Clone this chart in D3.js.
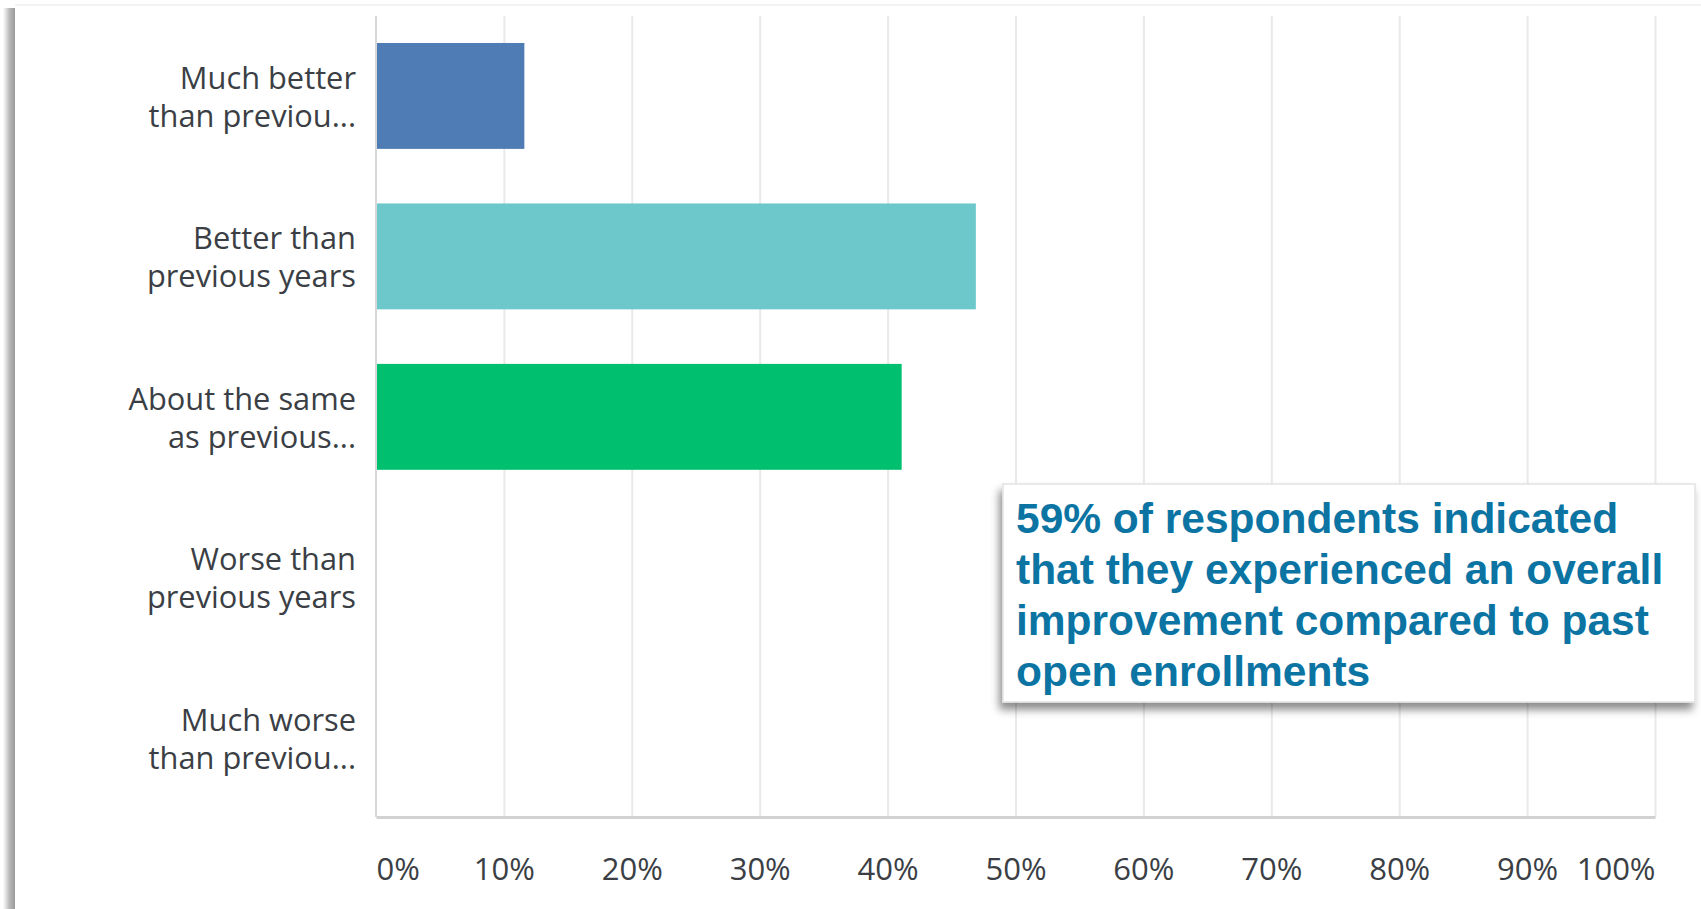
<!DOCTYPE html>
<html>
<head>
<meta charset="utf-8">
<script src="https://cdn.jsdelivr.net/npm/d3@7"></script>
<style>
    body { margin: 0; background: #ffffff; overflow: hidden; }
    svg { display: block; }
</style>
</head>
<body>
<div id="chart"></div>
<script>
// survey answers (labels are cut off in the original, so keep the shown text)
const categories = ["Much better than previous years", "Better than previous years",
    "About the same as previous years", "Worse than previous years", "Much worse than previous years"]
const labelLines = [["Much better", "than previou..."], ["Better than", "previous years"],
    ["About the same", "as previous..."], ["Worse than", "previous years"], ["Much worse", "than previou..."]]
const values = [11.6, 46.9, 41.1, 0, 0]
const barColors = ["#507cb5", "#6cc8cb", "#00bf6f", "#d25f90", "#dbd9b2"]
const tickValues = [0, 10, 20, 30, 40, 50, 60, 70, 80, 90, 100]
const noteLines = ["59% of respondents indicated", "that they experienced an overall",
    "improvement compared to past", "open enrollments"]

class BarChart {

    constructor() {
        this.initVis()
    }

    initVis() {
        let vis = this;

        vis.width = 1701
        vis.height = 909
        vis.top = 16
        vis.axisY = 817

        vis.svg = d3.select('#chart').append('svg')
            .attr('width', vis.width)
            .attr('height', vis.height)

        let defs = vis.svg.append('defs')
        let grad = defs.append('linearGradient').attr('id', 'pageShade')
            .attr('x1', 0).attr('x2', 1).attr('y1', 0).attr('y2', 0)
        grad.append('stop').attr('offset', '0%').attr('stop-color', '#ffffff')
        grad.append('stop').attr('offset', '55%').attr('stop-color', '#b8b8b8')
        grad.append('stop').attr('offset', '100%').attr('stop-color', '#9a9a9a')

        let shadow = defs.append('filter').attr('id', 'boxShadow')
            .attr('x', '-10%').attr('y', '-10%').attr('width', '120%').attr('height', '130%')
        shadow.append('feDropShadow')
            .attr('dx', -3).attr('dy', 7).attr('stdDeviation', 4)
            .attr('flood-color', '#000').attr('flood-opacity', 0.45)

        // screenshot edge on the left
        vis.svg.append('rect')
            .attr('x', 3).attr('y', 8).attr('width', 12).attr('height', vis.height)
            .attr('fill', 'url(#pageShade)')
        vis.svg.append('line')
            .attr('x1', 15).attr('x2', vis.width).attr('y1', 5).attr('y2', 5)
            .attr('stroke', '#f3f3f3').attr('stroke-width', 2)

        vis.x = d3.scaleLinear().domain([0, 100]).range([376, 1655])
        vis.y = d3.scaleBand().domain(categories)
            .range([15.7, 818])
            .paddingInner(0.34)
            .paddingOuter(0.17)

        // gridlines
        let grid = vis.svg.append('g')
            .attr('transform', `translate(0,${vis.axisY})`)
            .call(d3.axisBottom(vis.x).tickValues(tickValues.slice(1))
                .tickSize(-(vis.axisY - vis.top)).tickFormat(''))
        grid.select('.domain').remove()
        grid.selectAll('line').attr('stroke', '#e9e9e9').attr('stroke-width', 2)

        // y axis line
        vis.svg.append('line')
            .attr('x1', vis.x(0)).attr('x2', vis.x(0))
            .attr('y1', vis.top).attr('y2', vis.axisY)
            .attr('stroke', '#d8d8d8').attr('stroke-width', 2)

        vis.updateVis()
    }

    updateVis() {
        let vis = this;

        vis.svg.selectAll('.bar')
            .data(values)
            .join('rect')
            .attr('class', 'bar')
            .attr('x', vis.x(0) + 1)
            .attr('y', (d, i) => vis.y(categories[i]))
            .attr('width', d => Math.max(0, vis.x(d) - vis.x(0) - 1))
            .attr('height', vis.y.bandwidth())
            .attr('fill', (d, i) => barColors[i])

        // x axis with labels
        let xAxis = vis.svg.append('g')
            .attr('transform', `translate(0,${vis.axisY})`)
            .call(d3.axisBottom(vis.x).tickValues(tickValues)
                .tickSize(0).tickPadding(41).tickFormat(d => d + '%'))
        xAxis.select('.domain')
            .attr('stroke', '#d2d2d2').attr('stroke-width', 3)
        xAxis.selectAll('text')
            .attr('font-family', 'Open Sans')
            .attr('font-size', 31)
            .attr('fill', '#3b3f45')
            .attr('text-anchor', d => d == 0 ? 'start' : (d == 100 ? 'end' : 'middle'))

        // category labels, two lines each
        let labels = vis.svg.selectAll('.cat')
            .data(labelLines)
            .join('text')
            .attr('class', 'cat')
            .attr('text-anchor', 'end')
            .attr('font-family', 'Open Sans')
            .attr('font-size', 30.8)
            .attr('fill', '#3b3f45')
        labels.each(function(lines, i) {
            let c = vis.y(categories[i]) + vis.y.bandwidth() / 2
            d3.select(this).selectAll('tspan')
                .data(lines)
                .join('tspan')
                .attr('x', 356)
                .attr('y', (d, j) => c - 7 + j * 38)
                .text(d => d)
        })

        // callout box
        let note = vis.svg.append('g')
        note.append('rect')
            .attr('x', 1003).attr('y', 484)
            .attr('width', 692).attr('height', 218)
            .attr('fill', '#ffffff')
            .attr('stroke', '#e2e2e2').attr('stroke-width', 1.5)
            .attr('filter', 'url(#boxShadow)')
        note.append('text')
            .attr('font-family', 'Liberation Sans, Arial, sans-serif')
            .attr('font-weight', 'bold')
            .attr('font-size', 42.5)
            .attr('fill', '#0b74a3')
            .selectAll('tspan')
            .data(noteLines)
            .join('tspan')
            .attr('x', 1016)
            .attr('y', (d, i) => 533 + i * 51)
            .text(d => d)
    }
}

new BarChart()
</script>
</body>
</html>
